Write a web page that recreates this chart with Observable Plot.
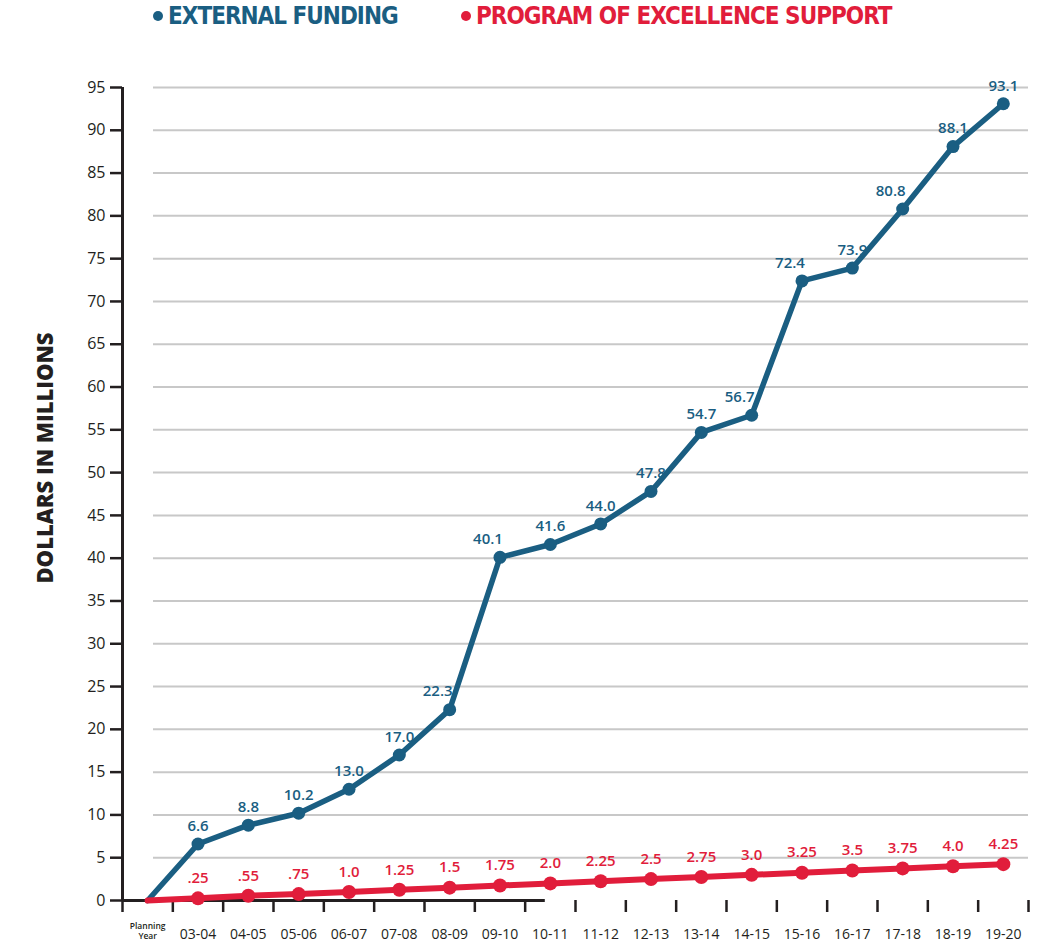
<!DOCTYPE html>
<html>
<head>
<meta charset="utf-8">
<script src="https://cdn.jsdelivr.net/npm/d3@7"></script>
<script src="https://cdn.jsdelivr.net/npm/@observablehq/plot@0.6"></script>
<style>
  html, body { margin: 0; padding: 0; background: #fff; }
  #legend { position: relative; height: 30px; width: 1048px; font-family: "DejaVu Sans Condensed", "DejaVu Sans", sans-serif; font-weight: 700; font-size: 24px; letter-spacing: -1px; }
  .item { position: absolute; top: 2px; display: flex; align-items: center; white-space: nowrap; }
  .dot { width: 10px; height: 10px; border-radius: 50%; margin-right: 5px; }
</style>
</head>
<body>
<div id="legend"></div>
<div id="chart"></div>
<script>
const categories = ["Planning\nYear","03-04","04-05","05-06","06-07","07-08","08-09","09-10","10-11","11-12","12-13","13-14","14-15","15-16","16-17","17-18","18-19","19-20"];
const external = [0,6.6,8.8,10.2,13.0,17.0,22.3,40.1,41.6,44.0,47.8,54.7,56.7,72.4,73.9,80.8,88.1,93.1];
const externalLabels = [null,"6.6","8.8","10.2","13.0","17.0","22.3","40.1","41.6","44.0","47.8","54.7","56.7","72.4","73.9","80.8","88.1","93.1"];
const excellence = [0,0.25,0.55,0.75,1.0,1.25,1.5,1.75,2.0,2.25,2.5,2.75,3.0,3.25,3.5,3.75,4.0,4.25];
const excellenceLabels = [null,".25",".55",".75","1.0","1.25","1.5","1.75","2.0","2.25","2.5","2.75","3.0","3.25","3.5","3.75","4.0","4.25"];
const yTicks = [0,5,10,15,20,25,30,35,40,45,50,55,60,65,70,75,80,85,90,95];
const seriesNames = ["EXTERNAL FUNDING","PROGRAM OF EXCELLENCE SUPPORT"];

const BLUE = "#1a5e82";
const RED = "#e11d3b";
const INK = "#231f20";

// legend
const legend = document.getElementById("legend");
[[seriesNames[0], BLUE, 153], [seriesNames[1], RED, 461]].forEach(([name, color, left]) => {
  const d = document.createElement("div");
  d.className = "item";
  d.style.left = left + "px";
  d.style.color = color;
  d.innerHTML = `<span class="dot" style="background:${color}"></span><span>${name}</span>`;
  legend.appendChild(d);
});

const rows = categories.map((c, i) => ({
  i, cat: c,
  ext: external[i], extLabel: externalLabels[i],
  exc: excellence[i], excLabel: excellenceLabels[i]
}));
// blue labels move left where the neighbouring segment climbs steeply
rows.forEach((r, i) => {
  const inSlope = i > 0 ? external[i] - external[i - 1] : 0;
  const outSlope = i < external.length - 1 ? external[i + 1] - external[i] : 0;
  r.steep = (outSlope > 7 || inSlope > 10);
});
const boundaries = d3.range(categories.length + 1).map(k => k - 0.5);
const pts = rows.filter(r => r.i > 0);

const font = "'Open Sans', sans-serif";

const chart = Plot.plot({
  width: 1048,
  height: 912,
  marginLeft: 122,
  marginRight: 20,
  marginTop: 57,
  marginBottom: 42,
  style: { fontFamily: font, background: "#fff" },
  x: { type: "linear", domain: [-0.5, categories.length - 0.5], axis: null, label: null },
  y: { domain: [0, 95], axis: null, label: null },
  marks: [
    Plot.ruleY(yTicks.filter(v => v > 0), { stroke: "#c8c8c8", strokeWidth: 2, insetLeft: 31 }),
    Plot.axisX({ ticks: boundaries, tickFormat: () => "", tickSize: 12, stroke: INK, strokeWidth: 2.5, label: null }),
    Plot.axisY({ ticks: yTicks, tickSize: 12, tickPadding: 5, fontSize: 16, color: INK, strokeWidth: 2.5, label: null }),
    Plot.ruleX([-0.5], { y1: 0, y2: 95, stroke: INK, strokeWidth: 3 }),
    Plot.ruleY([0], { x1: -0.5, x2: 7.9, stroke: INK, strokeWidth: 3 }),
    Plot.text(["DOLLARS IN MILLIONS"], { frameAnchor: "left", textAnchor: "middle", rotate: -90, dx: -77, dy: -36, fontSize: 22, fontWeight: 800, fill: INK }),
    Plot.text(rows.filter(r => r.i > 0), { x: "i", y: 0, text: "cat", dy: 34, fill: INK, fontWeight: 500, fontSize: 14 }),
    Plot.text(rows.filter(r => r.i === 0), { x: "i", y: 0, text: "cat", dy: 30, fill: INK, fontWeight: 600, fontSize: 8.5, lineHeight: 1.25 }),
    Plot.line(rows, { x: "i", y: "ext", stroke: BLUE, strokeWidth: 5.5 }),
    Plot.dot(pts, { x: "i", y: "ext", r: 6.5, fill: BLUE }),
    Plot.line(rows, { x: "i", y: "exc", stroke: RED, strokeWidth: 6 }),
    Plot.dot(pts, { x: "i", y: "exc", r: 7, fill: RED }),
    Plot.text(pts.filter(r => !r.steep), { x: "i", y: "ext", text: "extLabel", dy: -18, fill: BLUE, fontSize: 15, fontWeight: 600 }),
    Plot.text(pts.filter(r => r.steep), { x: "i", y: "ext", text: "extLabel", dy: -18, dx: -12, fill: BLUE, fontSize: 15, fontWeight: 600 }),
    Plot.text(pts, { x: "i", y: "exc", text: "excLabel", dy: -20, fill: RED, fontSize: 15, fontWeight: 600 })
  ]
});
document.getElementById("chart").appendChild(chart);
</script>
</body>
</html>
